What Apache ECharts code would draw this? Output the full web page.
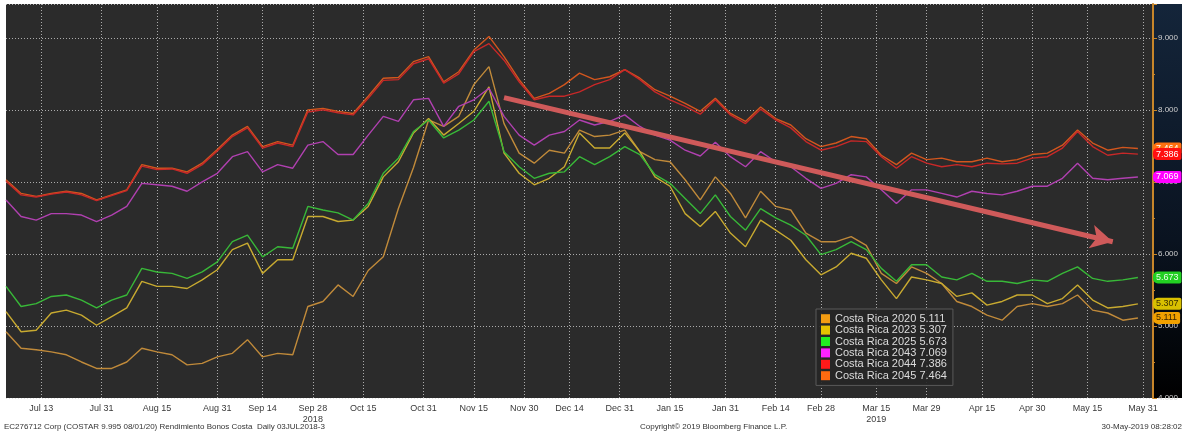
<!DOCTYPE html>
<html><head><meta charset="utf-8">
<script src="https://cdn.jsdelivr.net/npm/echarts/dist/echarts.min.js"></script>
<style>html,body{margin:0;padding:0;background:#ffffff}#c{width:1182px;height:434px}</style>
</head><body><div id="c"></div>
<script>
// ---- axis / calendar ----
const firstDay = '2018-07-03';
const lastDay = '2019-06-04';
const holidays = ['2018-07-04','2018-09-03','2018-10-08','2018-11-12','2018-11-22','2018-12-05',
  '2018-12-25','2019-01-01','2019-01-21','2019-02-18','2019-04-19','2019-05-27'];
const sampleStep = 3; // one reading every 3rd trading day
const tickDates = ['2018-07-13','2018-07-31','2018-08-15','2018-08-31','2018-09-14','2018-09-28',
  '2018-10-15','2018-10-31','2018-11-15','2018-11-30','2018-12-14','2018-12-31','2019-01-15',
  '2019-01-31','2019-02-14','2019-02-28','2019-03-15','2019-03-29','2019-04-15','2019-04-30',
  '2019-05-15','2019-05-31'];
const tickLabels = ['Jul 13','Jul 31','Aug 15','Aug 31','Sep 14','Sep 28\n2018','Oct 15','Oct 31',
  'Nov 15','Nov 30','Dec 14','Dec 31','Jan 15','Jan 31','Feb 14','Feb 28','Mar 15\n2019','Mar 29',
  'Apr 15','Apr 30','May 15','May 31'];

// ---- series ----
const seriesNames = ['Costa Rica 2020','Costa Rica 2023','Costa Rica 2025','Costa Rica 2043','Costa Rica 2044','Costa Rica 2045'];
const cr2020 = [4.92,4.69,4.67,4.64,4.60,4.50,4.41,4.41,4.50,4.69,4.64,4.60,4.46,4.48,4.57,4.62,
  4.81,4.57,4.62,4.60,5.27,5.34,5.57,5.41,5.77,5.96,6.63,7.20,7.86,7.77,7.91,
  8.35,8.60,7.81,7.40,7.26,7.44,7.40,7.72,7.63,7.65,7.72,7.42,7.31,7.28,7.03,6.75,
  7.07,6.84,6.50,6.87,6.66,6.61,6.29,6.17,6.17,6.24,6.12,5.73,5.59,5.82,5.73,
  5.59,5.34,5.27,5.15,5.08,5.27,5.31,5.27,5.31,5.43,5.22,5.18,5.08,5.111];
const cr2023 = [5.20,4.92,4.94,5.18,5.22,5.15,5.01,5.13,5.25,5.62,5.55,5.55,5.52,5.64,5.78,6.06,
  6.15,5.73,5.92,5.92,6.52,6.52,6.45,6.47,6.66,7.07,7.28,7.68,7.88,7.65,7.81,
  7.98,8.32,7.40,7.12,6.96,7.05,7.21,7.68,7.47,7.47,7.68,7.42,7.07,6.94,6.56,6.38,
  6.59,6.29,6.10,6.47,6.33,6.19,5.92,5.71,5.82,6.01,5.94,5.64,5.38,5.68,5.64,
  5.59,5.41,5.46,5.29,5.34,5.43,5.43,5.31,5.38,5.57,5.36,5.25,5.27,5.307];
const cr2025 = [5.55,5.27,5.31,5.41,5.43,5.36,5.25,5.36,5.43,5.80,5.75,5.73,5.66,5.75,5.89,6.17,
  6.26,5.96,6.10,6.08,6.66,6.61,6.57,6.47,6.70,7.12,7.33,7.70,7.86,7.61,7.72,
  7.86,8.12,7.42,7.21,7.05,7.12,7.14,7.35,7.24,7.35,7.49,7.38,7.10,6.98,6.77,6.56,
  6.82,6.52,6.33,6.63,6.50,6.40,6.26,5.99,6.06,6.17,6.06,5.80,5.62,5.85,5.85,
  5.68,5.64,5.73,5.62,5.62,5.59,5.64,5.62,5.73,5.82,5.66,5.62,5.64,5.673];
const cr2043 = [6.75,6.52,6.47,6.56,6.56,6.54,6.45,6.54,6.66,6.98,6.96,6.94,6.87,7.00,7.12,7.35,
  7.42,7.14,7.24,7.19,7.51,7.56,7.38,7.38,7.65,7.91,7.84,8.14,8.16,7.77,8.05,
  8.14,8.30,7.91,7.65,7.51,7.65,7.70,7.86,7.79,7.84,7.93,7.77,7.65,7.58,7.44,7.36,
  7.55,7.35,7.21,7.42,7.28,7.21,7.05,6.91,6.98,7.10,7.07,6.89,6.70,6.89,6.89,
  6.84,6.79,6.87,6.84,6.82,6.87,6.94,6.94,7.05,7.26,7.05,7.03,7.05,7.069];
const cr2044 = [7.01,6.82,6.79,6.83,6.86,6.82,6.74,6.81,6.88,7.22,7.17,7.18,7.12,7.24,7.43,7.63,
  7.75,7.47,7.54,7.49,7.97,8.00,7.96,7.93,8.16,8.41,8.42,8.64,8.71,8.37,8.50,
  8.81,8.92,8.69,8.39,8.14,8.19,8.19,8.25,8.35,8.42,8.56,8.42,8.25,8.14,8.05,7.94,
  8.14,7.93,7.81,8.01,7.86,7.75,7.56,7.44,7.49,7.57,7.56,7.35,7.19,7.35,7.26,
  7.21,7.24,7.21,7.26,7.25,7.26,7.33,7.35,7.47,7.70,7.49,7.37,7.40,7.386];
const cr2045 = [7.03,6.84,6.80,6.84,6.87,6.84,6.75,6.82,6.89,7.24,7.19,7.19,7.14,7.26,7.45,7.65,
  7.77,7.49,7.56,7.51,8.00,8.02,7.98,7.95,8.19,8.44,8.45,8.67,8.74,8.39,8.53,
  8.83,9.02,8.74,8.42,8.16,8.23,8.35,8.51,8.42,8.46,8.56,8.44,8.28,8.19,8.09,7.98,
  8.16,7.95,7.84,8.04,7.88,7.79,7.60,7.49,7.54,7.63,7.60,7.37,7.24,7.40,7.31,
  7.33,7.28,7.28,7.33,7.28,7.31,7.38,7.40,7.51,7.72,7.54,7.44,7.48,7.464];
const seriesValues = [cr2020, cr2023, cr2025, cr2043, cr2044, cr2045];

// annotation arrow (date, yield) start and end
const trendArrow = [['2018-11-26', 8.17], ['2019-05-22', 6.17]];

// ---- styles ----
const lineColors = ['#c08a3a','#c8aa30','#38b838','#b040b0','#c82828','#d2561e'];
const legendColors = ['#f39c12','#e6c200','#22ee22','#ff22ff','#ff1a1a','#ff6a10'];
const tagBg = ['#f0a000','#d8c000','#22d022','#ff00ff','#ff1010','#ff7010'];
const tagText = ['#3a2600','#3a3000','#eaffea','#ffffff','#ffffff','#ffffff'];

// build trading-day categories
const holidaySet = new Set(holidays);
const categories = [];
{
  let d = new Date(firstDay + 'T00:00:00Z');
  const end = new Date(lastDay + 'T00:00:00Z');
  while (d <= end) {
    const wd = d.getUTCDay();
    const iso = d.toISOString().slice(0, 10);
    if (wd !== 0 && wd !== 6 && !holidaySet.has(iso)) categories.push(iso);
    d = new Date(d.getTime() + 86400000);
  }
}
const tickMap = {};
tickDates.forEach((d, i) => { tickMap[d] = tickLabels[i]; });
const isTick = (idx, val) => Object.prototype.hasOwnProperty.call(tickMap, val);

const font = '"Liberation Sans", Arial, sans-serif';
const chart = echarts.init(document.getElementById('c'), null, { renderer: 'canvas' });

const series = seriesNames.map((name, k) => {
  const vals = seriesValues[k];
  const s = {
    name, type: 'line', showSymbol: false, symbol: 'none', smooth: false,
    z: k === 4 ? 4 : 3,
    lineStyle: { color: lineColors[k], width: 1.4 },
    itemStyle: { color: lineColors[k] },
    data: vals.map((v, i) => [categories[i * sampleStep], v]),
    endLabel: {
      show: true, distance: 15,
      formatter: p => Number(p.value[1]).toFixed(3),
      backgroundColor: tagBg[k], color: tagText[k],
      fontFamily: font, fontSize: 9, padding: [1, 3, 0, 3], borderRadius: [5, 2, 2, 5],
      lineHeight: 11
    },
    emphasis: { disabled: true },
    animation: false
  };
  if (k === 0) {
    s.markLine = {
      silent: true, animation: false,
      symbol: ['none', 'arrow'], symbolSize: [18, 22],
      lineStyle: { color: '#cf5a5a', width: 5, type: 'solid' },
      label: { show: false },
      data: [[{ coord: trendArrow[0] }, { coord: trendArrow[1] }]]
    };
  }
  return s;
});

const option = {
  backgroundColor: '#ffffff',
  animation: false,
  grid: {
    left: 6, right: 29, top: 4, bottom: 36, containLabel: false, outerBoundsMode: 'none',
    show: true, backgroundColor: '#2b2b2b', borderWidth: 0
  },
  legend: {
    orient: 'vertical', left: 816, top: 309,
    backgroundColor: 'rgba(38,38,38,0.92)', borderColor: '#5a5a5a', borderWidth: 1,
    padding: [4, 6, 4, 5], itemGap: 0, itemWidth: 9, itemHeight: 9, icon: 'rect',
    textStyle: { color: '#dcdcdc', fontFamily: font, fontSize: 11, lineHeight: 11.4 },
    selectedMode: false,
    data: seriesNames.map((n, k) => ({ name: n, itemStyle: { color: legendColors[k] } })),
    formatter: n => {
      const k = seriesNames.indexOf(n);
      const arr = seriesValues[k];
      return n + ' ' + arr[arr.length - 1].toFixed(3);
    }
  },
  xAxis: {
    type: 'category', data: categories, boundaryGap: false,
    axisLine: { show: false }, axisTick: { show: false },
    axisLabel: {
      interval: isTick, formatter: v => tickMap[v] || '',
      color: '#3a3a3a', fontFamily: font, fontSize: 9, margin: 5, lineHeight: 11
    },
    splitLine: { show: true, interval: isTick, lineStyle: { color: 'rgba(215,215,215,0.75)', type: [1, 2], width: 1 } }
  },
  yAxis: {
    type: 'value', position: 'right', min: 4, max: 9.47, interval: 1,
    axisLine: { show: true, lineStyle: { color: '#c8862a', width: 2 } },
    axisTick: { show: true, inside: false, length: 4, lineStyle: { color: '#c8862a' } },
    minorTick: { show: true, splitNumber: 2, length: 2, lineStyle: { color: '#c8862a' } },
    axisLabel: {
      showMaxLabel: false, margin: 5, color: '#d0d0d0', fontFamily: font, fontSize: 8,
      formatter: v => (Math.abs(v - Math.round(v)) < 1e-6 ? v.toFixed(3) : '')
    },
    splitLine: { show: true, lineStyle: { color: 'rgba(215,215,215,0.75)', type: [1, 2], width: 1 } }
  },
  graphic: [
    { type: 'rect', z: -10, silent: true, shape: { x: 1153, y: 4, width: 29, height: 394 },
      style: { fill: new echarts.graphic.LinearGradient(0, 0, 0, 1, [
        { offset: 0, color: '#14253a' }, { offset: 0.6, color: '#0a1320' }, { offset: 1, color: '#000000' }]) } },
    { type: 'text', silent: true, left: 4, top: 423,
      style: { text: 'EC276712 Corp (COSTAR 9.995 08/01/20) Rendimiento Bonos Costa  Daily 03JUL2018-3',
        fill: '#333', font: '8px ' + font } },
    { type: 'text', silent: true, left: 640, top: 423,
      style: { text: 'Copyright\u00a9 2019 Bloomberg Finance L.P.', fill: '#333', font: '8px ' + font } },
    { type: 'text', silent: true, right: 0, top: 423,
      style: { text: '30-May-2019 08:28:02', fill: '#333', font: '8px ' + font } }
  ],
  series
};
chart.setOption(option);
</script>
</body></html>
